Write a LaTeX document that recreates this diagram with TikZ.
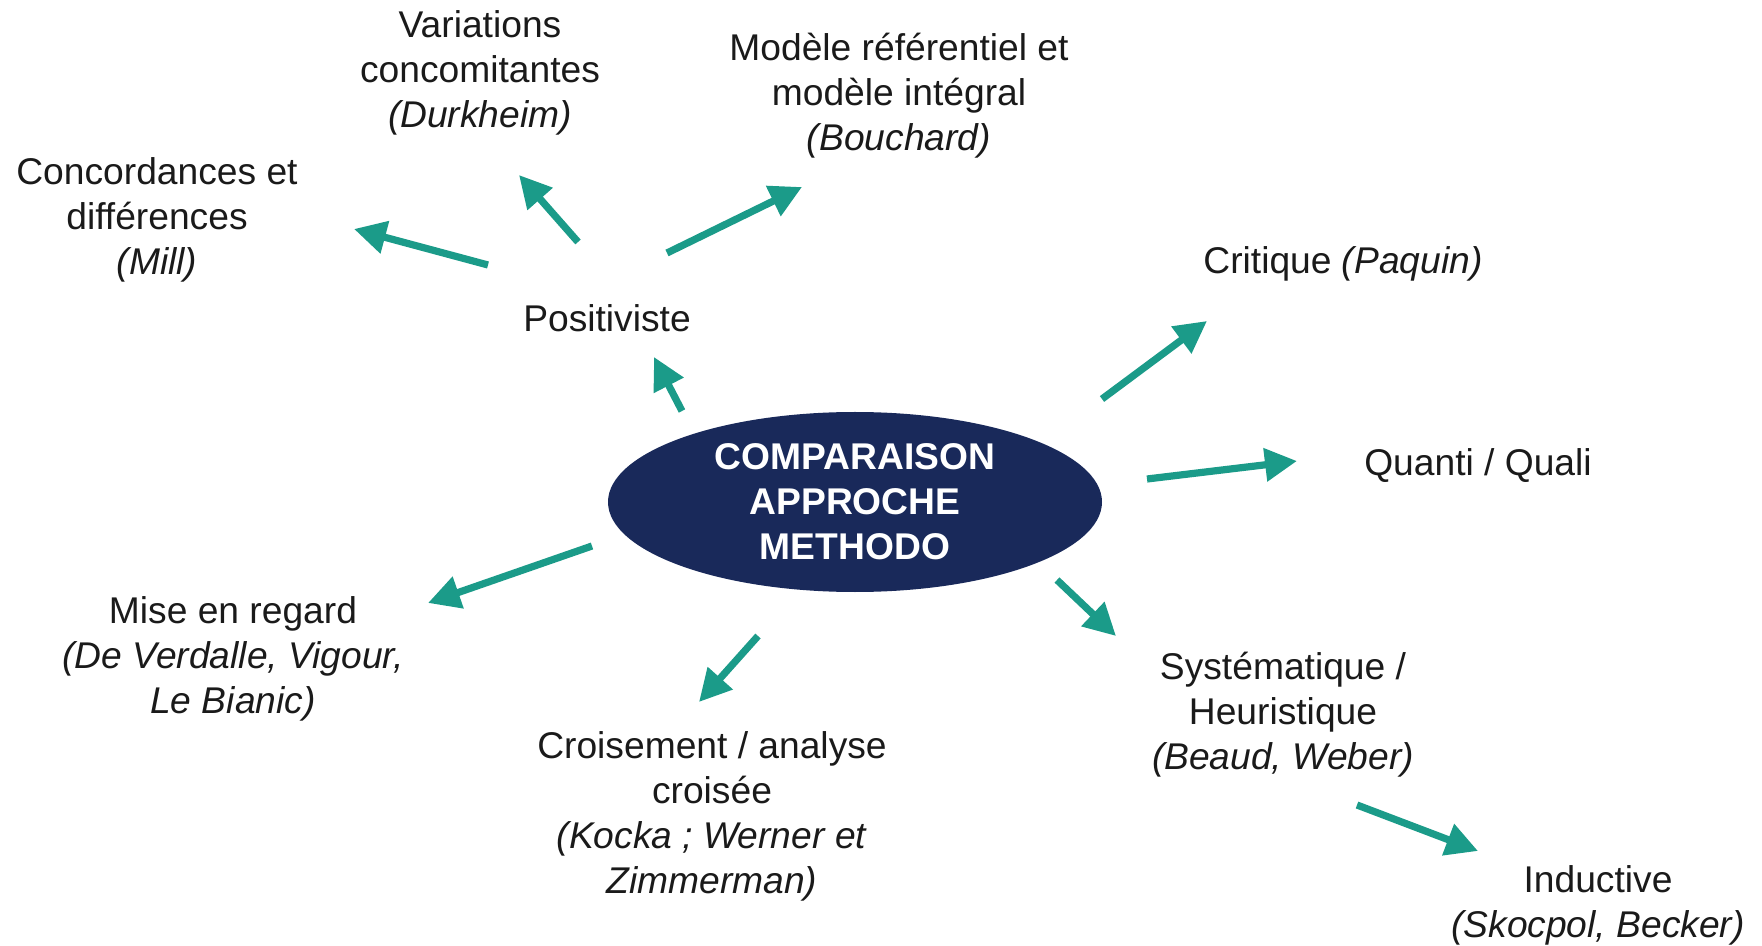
\documentclass[tikz,border=0pt]{standalone}
\usepackage{fontspec}
\setmainfont{Liberation Sans}
\usetikzlibrary{arrows.meta,shapes.geometric}
\definecolor{teal1}{RGB}{27,155,137}
\definecolor{navy1}{RGB}{25,41,90}
\definecolor{txt}{RGB}{26,26,26}
\tikzset{
  lbl/.style={align=center,text=txt,font=\fontsize{18.6pt}{22.5pt}\selectfont,inner sep=0pt},
  arr/.style={draw=teal1,line width=3.6pt,-{Triangle[length=16pt,width=16pt]}},
}
\begin{document}
\begin{tikzpicture}[x=0.5pt,y=-0.5pt]
\useasboundingbox (0,0) rectangle (1762,946);
\node[ellipse,fill=navy1,minimum width=247pt,minimum height=90pt,inner sep=0pt,
  align=center,text=white,font=\fontsize{18.6pt}{22.5pt}\selectfont\bfseries] (center) at (855,502)
  {COMPARAISON\\APPROCHE\\METHODO};
\node[lbl] (pos) at (607,318) {Positiviste};
\node[lbl] (var) at (480,73) {Variations\\concomitantes\\\textit{(Durkheim)}};
\node[lbl] (mod) at (899,96) {Modèle référentiel et\\modèle intégral\\\textit{(Bouchard)}};
\node[lbl] (conc) at (157,220) {Concordances et\\différences\\\textit{(Mill)}};
\node[lbl] (crit) at (1343,264) {Critique \textit{(Paquin)}};
\node[lbl] (quanti) at (1478,466) {Quanti / Quali};
\node[lbl] (mise) at (233,659) {Mise en regard\\\textit{(De Verdalle, Vigour,}\\\textit{Le Bianic)}};
\node[lbl] (crois) at (712,816) {Croisement / analyse\\croisée\\\textit{(Kocka ; Werner et}\\\textit{Zimmerman)}};
\node[lbl] (syst) at (1283,715) {Systématique /\\Heuristique\\\textit{(Beaud, Weber)}};
\node[lbl] (ind) at (1598,905) {Inductive\\\textit{(Skocpol, Becker)}};
% arrow end points
\coordinate (a1s) at (682,411); \coordinate (a1e) at (654,357);
\coordinate (a2s) at (488,265); \coordinate (a2e) at (354,229);
\coordinate (a3s) at (578,242); \coordinate (a3e) at (519,175);
\coordinate (a4s) at (667,253); \coordinate (a4e) at (802,187);
\coordinate (a5s) at (1102,399); \coordinate (a5e) at (1207,321);
\coordinate (a6s) at (1147,479); \coordinate (a6e) at (1297,461);
\coordinate (a7s) at (1057,580); \coordinate (a7e) at (1116,636);
\coordinate (a8s) at (758,636); \coordinate (a8e) at (699,702);
\coordinate (a9s) at (592,546); \coordinate (a9e) at (428,603);
\coordinate (a10s) at (1357,805); \coordinate (a10e) at (1478,851);
\draw[arr] (a1s) -- (a1e);
\draw[arr] (a2s) -- (a2e);
\draw[arr] (a3s) -- (a3e);
\draw[arr] (a4s) -- (a4e);
\draw[arr] (a5s) -- (a5e);
\draw[arr] (a6s) -- (a6e);
\draw[arr] (a7s) -- (a7e);
\draw[arr] (a8s) -- (a8e);
\draw[arr] (a9s) -- (a9e);
\draw[arr] (a10s) -- (a10e);
\end{tikzpicture}
\end{document}
